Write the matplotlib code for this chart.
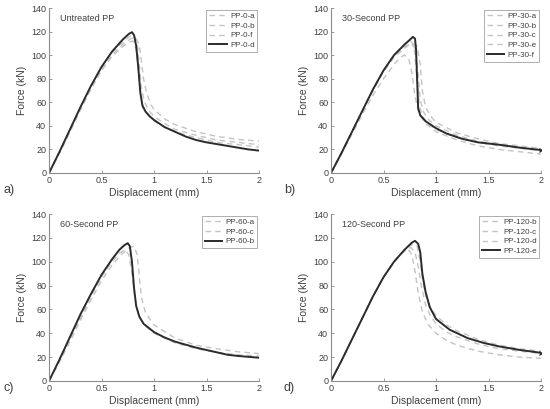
import numpy as np
import matplotlib
matplotlib.use('Agg')
import matplotlib.pyplot as plt

plt.rcParams['font.family'] = ['Liberation Sans', 'DejaVu Sans']

##========================================
# Data (force vs displacement)
##========================================

# a) untreated
pp0_a_x = [0, 0.1, 0.2, 0.3, 0.4, 0.5, 0.6, 0.7, 0.78, 0.83, 0.86, 0.88, 0.90, 0.93, 0.97, 1.0, 1.1, 1.2, 1.4, 1.6, 1.8, 2.0]
pp0_a_y = [0, 17, 35, 54, 71, 87, 100, 109, 114, 115, 108, 95, 80, 68, 58, 54, 46, 41, 35, 31, 28.5, 27]
pp0_b_x = [0, 0.1, 0.2, 0.3, 0.4, 0.5, 0.6, 0.7, 0.77, 0.81, 0.84, 0.86, 0.88, 0.91, 0.95, 1.0, 1.1, 1.2, 1.4, 1.6, 1.8, 2.0]
pp0_b_y = [0, 18, 36, 55, 73, 89, 102, 111, 116, 117, 110, 92, 72, 60, 53, 48, 42, 37, 32, 28, 26, 24]
pp0_f_x = [0, 0.1, 0.2, 0.3, 0.4, 0.5, 0.6, 0.7, 0.76, 0.80, 0.83, 0.85, 0.87, 0.90, 0.95, 1.0, 1.1, 1.2, 1.4, 1.6, 1.8, 2.0]
pp0_f_y = [0, 17, 35, 54, 72, 87, 99, 107, 111, 112, 105, 88, 68, 56, 49, 44, 39, 35, 30, 26, 24, 22]
pp0_d_x = [0, 0.1, 0.2, 0.3, 0.4, 0.5, 0.6, 0.7, 0.76, 0.79, 0.81, 0.83, 0.85, 0.87, 0.89, 0.92, 0.96, 1.0, 1.1, 1.2, 1.3, 1.4, 1.5, 1.6, 1.7, 1.8, 1.9, 2.0]
pp0_d_y = [0, 18, 37, 56, 74, 90, 103, 113, 118, 119.5, 117, 108, 90, 68, 57, 52, 48, 45, 39, 35, 31, 28, 26, 24.5, 23, 21.5, 20, 19]

# b) 30-second
pp30_a_x = [0, 0.1, 0.2, 0.3, 0.4, 0.5, 0.6, 0.66, 0.70, 0.74, 0.77, 0.80, 0.84, 0.9, 1.0, 1.2, 1.4, 1.6, 1.8, 2.0]
pp30_a_y = [0, 16, 33, 50, 66, 80, 92, 98, 100, 97, 85, 65, 50, 42, 35, 28, 23, 20, 18, 16]
pp30_b_x = [0, 0.1, 0.2, 0.3, 0.4, 0.5, 0.6, 0.7, 0.76, 0.80, 0.83, 0.85, 0.88, 0.92, 1.0, 1.2, 1.4, 1.6, 1.8, 2.0]
pp30_b_y = [0, 17, 35, 53, 70, 86, 99, 107, 110, 106, 85, 62, 52, 46, 40, 32, 27, 24, 21, 19]
pp30_c_x = [0, 0.1, 0.2, 0.3, 0.4, 0.5, 0.6, 0.7, 0.77, 0.82, 0.85, 0.87, 0.90, 0.95, 1.0, 1.2, 1.4, 1.6, 1.8, 2.0]
pp30_c_y = [0, 17, 35, 53, 70, 86, 98, 106, 110, 108, 92, 70, 56, 48, 43, 34, 29, 25, 23, 21]
pp30_e_x = [0, 0.1, 0.2, 0.3, 0.4, 0.5, 0.6, 0.7, 0.76, 0.79, 0.82, 0.84, 0.87, 0.92, 1.0, 1.2, 1.4, 1.6, 1.8, 2.0]
pp30_e_y = [0, 17, 35, 53, 71, 87, 100, 109, 112, 108, 80, 58, 48, 42, 37, 30, 26, 23, 21, 19]
pp30_f_x = [0, 0.1, 0.2, 0.3, 0.4, 0.5, 0.6, 0.7, 0.75, 0.78, 0.80, 0.81, 0.82, 0.83, 0.85, 0.9, 1.0, 1.1, 1.25, 1.4, 1.6, 1.8, 1.95, 2.0]
pp30_f_y = [0, 17, 35, 53, 71, 87, 100, 109, 113, 115.5, 114, 105, 80, 55, 49, 44, 38, 33.5, 29, 26, 24, 21.5, 20, 19.5]

# c) 60-second
pp60_a_x = [0, 0.1, 0.2, 0.3, 0.4, 0.5, 0.6, 0.7, 0.77, 0.81, 0.84, 0.86, 0.88, 0.92, 1.0, 1.2, 1.4, 1.6, 1.8, 2.0]
pp60_a_y = [0, 16, 33, 51, 68, 84, 97, 107, 112, 113, 106, 88, 70, 57, 47, 36, 30, 27, 24.5, 23]
pp60_c_x = [0, 0.1, 0.2, 0.3, 0.4, 0.5, 0.6, 0.67, 0.72, 0.76, 0.79, 0.82, 0.86, 0.92, 1.0, 1.2, 1.4, 1.6, 1.8, 2.0]
pp60_c_y = [0, 17, 35, 53, 71, 87, 100, 107, 110, 106, 90, 68, 54, 46, 40, 32, 27, 24, 22, 21]
pp60_b_x = [0, 0.1, 0.2, 0.3, 0.4, 0.5, 0.6, 0.67, 0.72, 0.75, 0.77, 0.79, 0.81, 0.83, 0.86, 0.9, 1.0, 1.1, 1.2, 1.4, 1.6, 1.7, 1.8, 2.0]
pp60_b_y = [0, 18, 37, 56, 73, 89, 102, 110, 114, 115.5, 113, 100, 78, 63, 54, 48, 41, 36.5, 33, 28, 24, 22, 21, 19.5]

# d) 120-second
pp120_b_x = [0, 0.1, 0.2, 0.3, 0.4, 0.5, 0.6, 0.7, 0.78, 0.82, 0.85, 0.87, 0.90, 0.95, 1.0, 1.1, 1.2, 1.4, 1.6, 1.8, 2.0]
pp120_b_y = [0, 17, 35, 53, 71, 87, 100, 110, 115, 113, 100, 86, 72, 61, 55, 47, 42, 35, 30, 27, 25]
pp120_c_x = [0, 0.1, 0.2, 0.3, 0.4, 0.5, 0.6, 0.7, 0.76, 0.80, 0.83, 0.86, 0.90, 0.95, 1.0, 1.1, 1.2, 1.4, 1.6, 1.8, 2.0]
pp120_c_y = [0, 17, 35, 53, 71, 87, 100, 109, 112, 108, 96, 80, 64, 54, 48, 41, 37, 31, 27, 25, 23]
pp120_d_x = [0, 0.1, 0.2, 0.3, 0.4, 0.5, 0.6, 0.68, 0.73, 0.77, 0.80, 0.83, 0.87, 0.92, 1.0, 1.1, 1.2, 1.4, 1.6, 1.8, 2.0]
pp120_d_y = [0, 17, 35, 53, 71, 87, 100, 108, 111, 106, 92, 74, 58, 48, 40, 34, 30, 25, 22, 20, 19]
pp120_e_x = [0, 0.1, 0.2, 0.3, 0.4, 0.5, 0.6, 0.7, 0.77, 0.80, 0.83, 0.85, 0.87, 0.90, 0.94, 1.0, 1.13, 1.3, 1.45, 1.6, 1.8, 1.97, 2.0]
pp120_e_y = [0, 17, 35, 53, 71, 87, 100, 110, 116, 117.5, 115, 108, 90, 75, 62, 52, 43, 36, 32, 29, 26, 24, 23.5]

panels = [
    ('Untreated PP', 'a)',
     [('PP-0-a', pp0_a_x, pp0_a_y), ('PP-0-b', pp0_b_x, pp0_b_y), ('PP-0-f', pp0_f_x, pp0_f_y)],
     ('PP-0-d', pp0_d_x, pp0_d_y), False),
    ('30-Second PP', 'b)',
     [('PP-30-a', pp30_a_x, pp30_a_y), ('PP-30-b', pp30_b_x, pp30_b_y),
      ('PP-30-c', pp30_c_x, pp30_c_y), ('PP-30-e', pp30_e_x, pp30_e_y)],
     ('PP-30-f', pp30_f_x, pp30_f_y), True),
    ('60-Second PP', 'c)',
     [('PP-60-a', pp60_a_x, pp60_a_y), ('PP-60-c', pp60_c_x, pp60_c_y)],
     ('PP-60-b', pp60_b_x, pp60_b_y), False),
    ('120-Second PP', 'd)',
     [('PP-120-b', pp120_b_x, pp120_b_y), ('PP-120-c', pp120_c_x, pp120_c_y),
      ('PP-120-d', pp120_d_x, pp120_d_y)],
     ('PP-120-e', pp120_e_x, pp120_e_y), True),
]

##========================================
# Layout
##========================================
W, H = 550, 409
fig = plt.figure(figsize=(W / 100, H / 100), dpi=100)

# axes boxes in pixels: left, top, right, bottom
boxes = [(49, 8, 259, 173), (331, 8, 541, 173),
         (49, 214, 259, 381), (331, 214, 541, 381)]
label_pos = [(3, 190), (284, 190), (3, 388), (284, 388)]

axis_col = '#8c8c8c'
text_col = '#404040'

for (title, tag, dashed, solid, endmark), (l, t, r, b), (lx, ly) in zip(panels, boxes, label_pos):
    ax = fig.add_axes([l / W, 1 - b / H, (r - l) / W, (b - t) / H])
    for name, xs, ys in dashed:
        ax.plot(xs, ys, color='#c4c4c4', lw=1.0, ls=(0, (4, 3)), label=name)
    name, xs, ys = solid
    ax.plot(xs, ys, color='#2b2b2b', lw=1.4, label=name)
    if endmark:
        ax.plot(xs[-1], ys[-1], marker='x', color='#2b2b2b', ms=3.5, mew=0.9)

    ax.set_xlim(0, 2)
    ax.set_ylim(0, 140)
    ax.set_xticks([0, 0.5, 1, 1.5, 2])
    ax.set_xticklabels(['0', '0.5', '1', '1.5', '2'])
    ax.set_yticks(np.arange(0, 141, 20))
    for s in ['top', 'right']:
        ax.spines[s].set_visible(False)
    for s in ['left', 'bottom']:
        ax.spines[s].set_color(axis_col)
        ax.spines[s].set_linewidth(0.8)
    ax.tick_params(direction='in', length=2, width=0.6, colors=axis_col,
                   labelcolor=text_col, labelsize=6.5, pad=2)
    ax.set_xlabel('Displacement (mm)', fontsize=7.5, color=text_col, labelpad=2)
    ax.set_ylabel('Force (kN)', fontsize=7.5, color=text_col, labelpad=3)
    ax.text(0.1, 131, title, fontsize=6.5, color=text_col, va='center')

    leg = ax.legend(loc='upper right', fontsize=5.8, frameon=True, fancybox=False,
                    handlelength=2.2, handletextpad=0.4, borderpad=0.35,
                    labelspacing=0.25, borderaxespad=0.2)
    leg.get_frame().set_edgecolor('#9a9a9a')
    leg.get_frame().set_linewidth(0.7)
    for txt in leg.get_texts():
        txt.set_color(text_col)

    fig.text(lx / W, 1 - ly / H, tag, fontsize=9, color=text_col, va='center', ha='left')

plt.savefig('out.png', dpi=100)
